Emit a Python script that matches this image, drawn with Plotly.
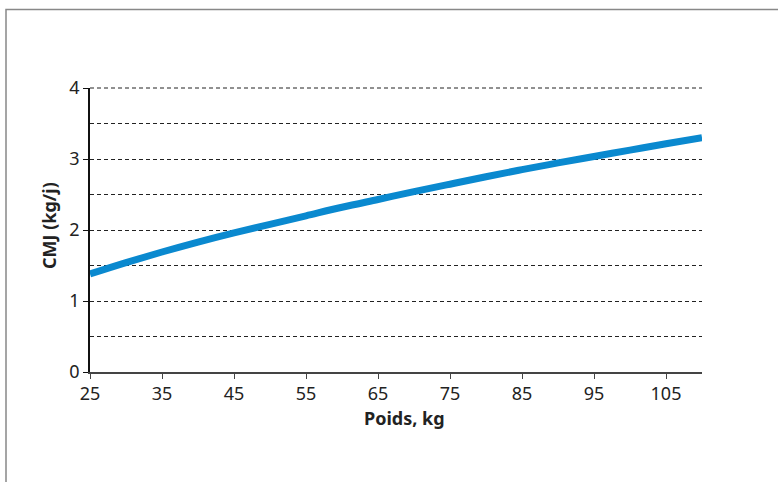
import plotly.graph_objects as go

poids = [25, 30, 35, 40, 45, 50, 55, 60, 65, 70, 75, 80, 85, 90, 95, 100, 105, 110]
cmj = [1.38, 1.54, 1.69, 1.83, 1.96, 2.08, 2.20, 2.32, 2.43, 2.54, 2.645, 2.75, 2.85, 2.945, 3.035, 3.125, 3.215, 3.30]
x_ticks = [25, 35, 45, 55, 65, 75, 85, 95, 105]
y_ticks = [0, 1, 2, 3, 4]

FONT = "Noto Sans"
W, H = 778, 482
L, R, T, B = 90, 76, 88, 110
pw, ph = W - L - R, H - T - B

fig = go.Figure()
fig.add_trace(go.Scatter(x=poids, y=cmj, mode="lines", line=dict(color="#0a89cf", width=7, shape="spline"),
                         showlegend=False, hoverinfo="skip"))

grid = dict(color="#222", width=1, dash="4px,3px")

fig.update_layout(
    width=W, height=H,
    margin=dict(l=L, r=R, t=T, b=B, pad=0),
    paper_bgcolor="white", plot_bgcolor="white",
    font=dict(family=FONT, size=18, color="#222"),
    xaxis=dict(range=[25, 110], tickvals=x_ticks, ticks="outside", ticklen=5, tickwidth=1.2,
               tickcolor="#444", showline=True, linecolor="#444", linewidth=1.5,
               showgrid=False, zeroline=False, tickfont=dict(size=18, family=FONT, color="#222")),
    yaxis=dict(range=[0, 4], tickvals=y_ticks, ticks="outside", ticklen=5, tickwidth=1.2,
               tickcolor="#111", showline=True, linecolor="#111", linewidth=1.5,
               showgrid=True, gridcolor="#222", gridwidth=1, griddash="4px,3px",
               zeroline=False, tickfont=dict(size=18, family=FONT, color="#222"),
               minor=dict(dtick=0.5, tick0=0, showgrid=True, gridcolor="#222", gridwidth=1,
                          griddash="4px,3px", ticks="")),
)

# top gridline at the top of the y range (paper ref so it is not clipped)
fig.add_shape(type="line", xref="paper", yref="paper", x0=0, x1=1, y0=1, y1=1, line=grid, layer="above")

# axis titles
fig.add_annotation(text="<b>Poids, kg</b>", xref="paper", yref="paper",
                   x=(405 - L) / pw, y=(H - B - 418) / ph, xanchor="center", yanchor="middle",
                   showarrow=False, font=dict(size=18, family=FONT, color="#222"))
fig.add_annotation(text="<b>CMJ (kg/j)</b>", xref="paper", yref="paper",
                   x=(49 - L) / pw, y=(H - B - 226) / ph, xanchor="center", yanchor="middle",
                   textangle=-90, showarrow=False, font=dict(size=18, family=FONT, color="#222"))

# outer frame (left and top edges visible)
fx = (6 - L) / pw
fy = (H - B - 9.5) / ph
fig.add_shape(type="path", xref="paper", yref="paper",
              path=f"M {fx} -0.6 L {fx} {fy} L 1.3 {fy}",
              line=dict(color="#888", width=1.5))

fig.write_html("out.html", config={"displayModeBar": False},
               post_script="document.body.style.margin='0';")
